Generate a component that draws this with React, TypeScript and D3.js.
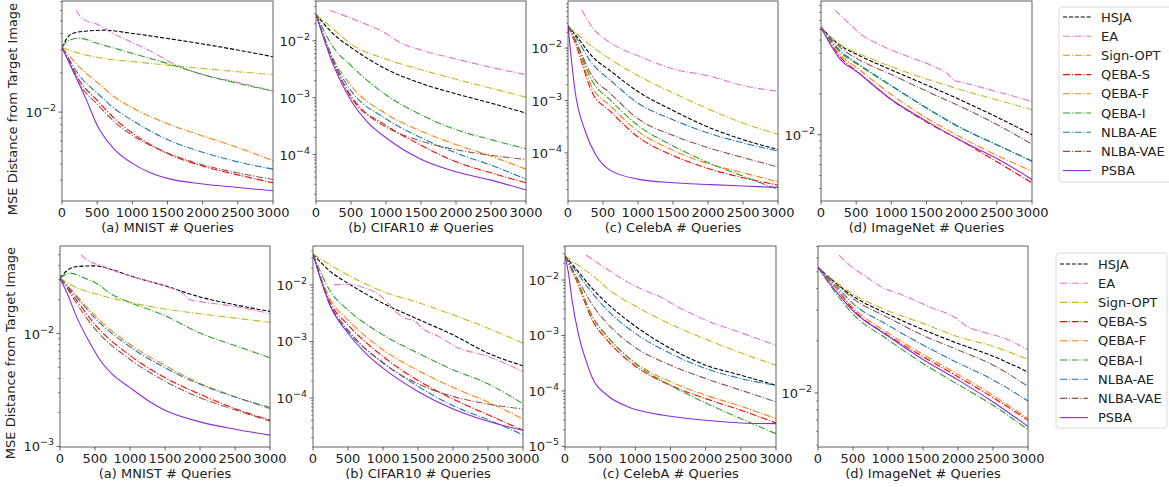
import React from 'react';
import * as d3 from 'd3';

type Pt = [number, number];
type PanelData = Record<string, Pt[]>;

// legend order, colours and line styles
const seriesNames = ['HSJA', 'EA', 'Sign-OPT', 'QEBA-S', 'QEBA-F', 'QEBA-I', 'NLBA-AE', 'NLBA-VAE', 'PSBA'];
const seriesColors = ['#000000', '#e377c2', '#bcbd22', '#ff0000', '#ff7f0e', '#2ca02c', '#1f77b4', '#8c564b', '#8a2be2'];
const seriesDash = ['4.1,1.8', '7,1.8,1.1,1.8', '7,1.8,1.1,1.8', '7,1.8,1.1,1.8', '7,1.8,1.1,1.8', '7,1.8,1.1,1.8', '7,1.8,1.1,1.8', '7,1.8,1.1,1.8', ''];

const xTicks = [0, 500, 1000, 1500, 2000, 2500, 3000];
const colTitles = ['(a) MNIST # Queries', '(b) CIFAR10 # Queries', '(c) CelebA # Queries', '(d) ImageNet # Queries'];
const yLabel = 'MSE Distance from Target Image';

// y limits (log10)
const topYLimits: Pt[] = [[-2.682, -1.148], [-4.816, -1.300], [-4.918, -1.101], [-2.490, -1.012]];
const bottomYLimits: Pt[] = [[-3.005, -1.224], [-4.865, -1.312], [-5.012, -1.386], [-2.312, -1.152]];

// ---- top row ----
const mnistTop: PanelData = {
  'HSJA': [[0, .0313], [100, .0385], [200, .0408], [400, .0420], [600, .0425], [1000, .0401], [1500, .0367], [2000, .0333], [2500, .0299], [3000, .0266]],
  'EA': [[200, .0604], [300, .0515], [500, .0472], [700, .0408], [1000, .0342], [1250, .0296], [1500, .0248], [2000, .0194], [2500, .0169], [3000, .0145]],
  'Sign-OPT': [[0, .0313], [200, .0287], [500, .0263], [1000, .0244], [1500, .0229], [2000, .0216], [2500, .0204], [3000, .0194]],
  'QEBA-S': [[0, .0313], [100, .0248], [250, .0174], [500, .0123], [750, .00889], [1000, .00691], [1500, .00481], [2000, .00385], [2500, .00330], [3000, .00287]],
  'QEBA-F': [[0, .0313], [100, .0271], [250, .0221], [500, .0169], [750, .0130], [1000, .0108], [1500, .00815], [2000, .00656], [2500, .00535], [3000, .00423]],
  'QEBA-I': [[0, .0313], [100, .0356], [250, .0369], [500, .0337], [1000, .0282], [1500, .0236], [2000, .0194], [2500, .0166], [3000, .0145]],
  'NLBA-AE': [[0, .0313], [100, .0255], [250, .0190], [500, .0140], [750, .0106], [1000, .00863], [1500, .00615], [2000, .00492], [2500, .00415], [3000, .00365]],
  'NLBA-VAE': [[0, .0313], [100, .0241], [250, .0164], [500, .0115], [750, .00839], [1000, .00664], [1500, .00486], [2000, .00394], [2500, .00342], [3000, .00304]],
  'PSBA': [[0, .0313], [100, .0241], [200, .0185], [350, .0123], [500, .00791], [750, .00515], [1000, .00404], [1250, .00344], [1500, .00310], [2000, .00281], [2500, .00264], [3000, .00249]],
};

const cifarTop: PanelData = {
  'HSJA': [[0, .0292], [250, .0131], [500, .00765], [1000, .00319], [1500, .00179], [2000, .00117], [2500, .000802], [3000, .000536]],
  'EA': [[200, .0344], [500, .0249], [1000, .0134], [1200, .00935], [1500, .00687], [2000, .00478], [2500, .00342], [3000, .00254]],
  'Sign-OPT': [[0, .0292], [250, .0160], [500, .00874], [1000, .00478], [1500, .00311], [2000, .00211], [2500, .00147], [3000, .00102]],
  'QEBA-S': [[0, .0292], [250, .00418], [500, .00102], [1000, .000326], [1500, .000146], [2000, .0000745], [2500, .0000478], [3000, .0000319]],
  'QEBA-F': [[0, .0292], [250, .00478], [500, .00163], [1000, .000521], [1500, .000259], [2000, .000150], [2500, .0000935], [3000, .0000554]],
  'QEBA-I': [[0, .0292], [250, .00765], [500, .00366], [1000, .00112], [1500, .000501], [2000, .000274], [2500, .000183], [3000, .000127]],
  'NLBA-AE': [[0, .0292], [250, .00447], [500, .00133], [1000, .000426], [1500, .000198], [2000, .000107], [2500, .0000650], [3000, .0000370]],
  'NLBA-VAE': [[0, .0292], [250, .00418], [500, .00109], [750, .000488], [1000, .000305], [1500, .000173], [2000, .000122], [2500, .0000972], [3000, .0000818]],
  'PSBA': [[0, .0292], [250, .00366], [500, .000891], [750, .000358], [1000, .000198], [1500, .0000828], [2000, .0000498], [2500, .0000356], [3000, .0000238]],
};

const celebaTop: PanelData = {
  'HSJA': [[0, .0265], [100, .0185], [350, .00684], [600, .00372], [1000, .00148], [1500, .000646], [2000, .000312], [2500, .000179], [3000, .000116]],
  'EA': [[200, .0527], [350, .0247], [600, .0128], [800, .00916], [1000, .00715], [1500, .00399], [2000, .00298], [2500, .00193], [3000, .00150]],
  'Sign-OPT': [[0, .0265], [350, .0106], [600, .00618], [1000, .00298], [1500, .00140], [2000, .000695], [2500, .000371], [3000, .000226]],
  'QEBA-S': [[0, .0265], [100, .0128], [350, .00138], [600, .000627], [1000, .000201], [1500, .0000889], [2000, .0000504], [2500, .0000335], [3000, .0000243]],
  'QEBA-F': [[0, .0265], [100, .0138], [350, .00174], [600, .000804], [1000, .000258], [1500, .000112], [2000, .0000627], [2500, .0000417], [3000, .0000281]],
  'QEBA-I': [[0, .0265], [100, .0142], [350, .00230], [600, .00103], [1000, .000335], [1500, .000136], [2000, .0000655], [2500, .0000360], [3000, .0000201]],
  'NLBA-AE': [[0, .0265], [100, .0171], [350, .00497], [600, .00247], [1000, .000889], [1500, .000429], [2000, .000240], [2500, .000155], [3000, .000109]],
  'NLBA-VAE': [[0, .0265], [100, .0148], [350, .00286], [600, .00138], [1000, .000449], [1500, .000216], [2000, .000126], [2500, .0000815], [3000, .0000542]],
  'PSBA': [[0, .0265], [50, .00575], [100, .00155], [250, .000251], [400, .0000903], [600, .0000469], [1000, .0000316], [1500, .0000269], [2000, .0000250], [2500, .0000233], [3000, .0000220]],
};

const imagenetTop: PanelData = {
  'HSJA': [[0, .0620], [300, .0447], [500, .0394], [1000, .0301], [1500, .0233], [2000, .0179], [2500, .0135], [3000, .0100]],
  'EA': [[200, .0830], [400, .0662], [600, .0537], [800, .0472], [1000, .0422], [1300, .0368], [1600, .0320], [1800, .0281], [1900, .0251], [2000, .0244], [2500, .0208], [3000, .0176]],
  'Sign-OPT': [[0, .0620], [300, .0454], [500, .0406], [1000, .0318], [1500, .0258], [2000, .0214], [2500, .0181], [3000, .0153]],
  'QEBA-S': [[0, .0620], [300, .0362], [500, .0297], [1000, .0181], [1500, .0124], [2000, .00898], [2500, .00630], [3000, .00441]],
  'QEBA-F': [[0, .0620], [300, .0377], [500, .0315], [1000, .0198], [1500, .0133], [2000, .00951], [2500, .00705], [3000, .00537]],
  'QEBA-I': [[0, .0620], [300, .0395], [500, .0336], [1000, .0229], [1500, .0157], [2000, .0111], [2500, .00840], [3000, .00640]],
  'NLBA-AE': [[0, .0620], [300, .0406], [500, .0342], [1000, .0231], [1500, .0158], [2000, .0112], [2500, .00844], [3000, .00637]],
  'NLBA-VAE': [[0, .0620], [300, .0429], [500, .0368], [1000, .0278], [1500, .0210], [2000, .0160], [2500, .0119], [3000, .00849]],
  'PSBA': [[0, .0620], [300, .0348], [500, .0294], [1000, .0182], [1500, .0126], [2000, .00898], [2500, .00667], [3000, .00467]],
};

// ---- bottom row ----
const mnistBottom: PanelData = {
  'HSJA': [[0, .0310], [100, .0362], [250, .0393], [500, .0398], [750, .0367], [1000, .0325], [1500, .0265], [2000, .0211], [2500, .0180], [3000, .0157]],
  'EA': [[300, .0498], [400, .0444], [600, .0398], [800, .0355], [1000, .0325], [1500, .0262], [1750, .0229], [1850, .0200], [2000, .0192], [2500, .0174], [3000, .0150]],
  'Sign-OPT': [[0, .0310], [250, .0253], [500, .0225], [1000, .0189], [1500, .0165], [2000, .0150], [2500, .0137], [3000, .0126]],
  'QEBA-S': [[0, .0310], [100, .0258], [250, .0193], [500, .0120], [1000, .00640], [1500, .00406], [2000, .00290], [2500, .00216], [3000, .00171]],
  'QEBA-F': [[0, .0310], [100, .0270], [250, .0213], [500, .0144], [1000, .00800], [1500, .00522], [2000, .00362], [2500, .00276], [3000, .00216]],
  'QEBA-I': [[0, .0310], [150, .0343], [350, .0310], [500, .0284], [750, .0221], [1000, .0189], [1500, .0144], [2000, .0101], [2500, .00783], [3000, .00610]],
  'NLBA-AE': [[0, .0310], [100, .0265], [250, .0206], [500, .0137], [1000, .00763], [1500, .00498], [2000, .00355], [2500, .00274], [3000, .00221]],
  'NLBA-VAE': [[0, .0310], [100, .0253], [250, .0180], [500, .0110], [1000, .00590], [1500, .00379], [2000, .00270], [2500, .00211], [3000, .00168]],
  'PSBA': [[0, .0310], [100, .0229], [250, .0135], [400, .00885], [600, .00551], [750, .00435], [1000, .00332], [1300, .00245], [1500, .00209], [2000, .00165], [2500, .00142], [3000, .00126]],
};

const cifarBottom: PanelData = {
  'HSJA': [[0, .0352], [250, .0172], [500, .0107], [1000, .00474], [1500, .00248], [2000, .00131], [2500, .000622], [3000, .000372]],
  'EA': [[300, .0100], [500, .0103], [750, .00874], [950, .00667], [1050, .00508], [1180, .00338], [1320, .00258], [1460, .00226], [1560, .00172], [1800, .00122], [2030, .000817], [2500, .000543], [3000, .000296]],
  'Sign-OPT': [[0, .0352], [250, .0225], [500, .0150], [1000, .00763], [1500, .00488], [2000, .00296], [2500, .00172], [3000, .000935]],
  'QEBA-S': [[0, .0352], [250, .00474], [500, .00197], [1000, .000543], [1500, .000205], [2000, .0000960], [2500, .0000508], [3000, .0000269]],
  'QEBA-F': [[0, .0352], [250, .00543], [500, .00241], [1000, .000713], [1500, .000308], [2000, .000154], [2500, .0000849], [3000, .0000426]],
  'QEBA-I': [[0, .0352], [250, .00763], [500, .00362], [1000, .00131], [1500, .000622], [2000, .000316], [2500, .000179], [3000, .0000794]],
  'NLBA-AE': [[0, .0352], [250, .00426], [500, .00150], [1000, .000426], [1500, .000161], [2000, .0000733], [2500, .0000415], [3000, .0000225]],
  'NLBA-VAE': [[0, .0352], [250, .00444], [500, .00161], [1000, .000415], [1500, .000179], [2000, .000107], [2500, .0000783], [3000, .0000640]],
  'PSBA': [[0, .0352], [250, .00415], [500, .00140], [750, .000622], [1000, .000338], [1500, .000131], [2000, .0000640], [2500, .0000388], [3000, .0000269]],
};

const celebaBottom: PanelData = {
  'HSJA': [[0, .0272], [150, .0163], [400, .00678], [600, .00378], [1000, .00147], [1500, .000582], [2000, .000291], [2500, .000192], [3000, .000126]],
  'EA': [[300, .0283], [600, .0156], [900, .00908], [1100, .00678], [1350, .00500], [1600, .00330], [2000, .00189], [2500, .00112], [3000, .000668]],
  'Sign-OPT': [[0, .0272], [150, .0200], [400, .0118], [600, .00707], [1000, .00339], [1500, .00160], [2000, .000859], [2500, .000486], [3000, .000291]],
  'QEBA-S': [[0, .0272], [150, .0107], [400, .00177], [600, .000824], [1000, .000279], [1500, .000126], [2000, .0000726], [2500, .0000448], [3000, .0000264]],
  'QEBA-F': [[0, .0272], [150, .0112], [400, .00203], [600, .000946], [1000, .000321], [1500, .000146], [2000, .0000836], [2500, .0000529], [3000, .0000316]],
  'QEBA-I': [[0, .0272], [150, .0115], [400, .00211], [600, .000973], [1000, .000312], [1500, .000126], [2000, .0000607], [2500, .0000316], [3000, .0000169]],
  'NLBA-AE': [[0, .0272], [150, .0148], [400, .00558], [600, .00287], [1000, .00109], [1500, .000473], [2000, .000253], [2500, .000167], [3000, .000126]],
  'NLBA-VAE': [[0, .0272], [150, .0123], [400, .00339], [600, .00165], [1000, .000607], [1500, .000291], [2000, .000167], [2500, .000103], [3000, .0000633]],
  'PSBA': [[0, .0272], [50, .0132], [100, .00435], [200, .000946], [300, .000348], [400, .000160], [600, .0000836], [900, .0000514], [1100, .0000429], [1500, .0000349], [2000, .0000295], [2500, .0000264], [3000, .0000257]],
};

const imagenetBottom: PanelData = {
  'HSJA': [[0, .0530], [250, .0432], [500, .0362], [1000, .0285], [1500, .0232], [2000, .0193], [2500, .0163], [3000, .0132]],
  'EA': [[300, .0625], [450, .0547], [700, .0464], [900, .0410], [1150, .0375], [1400, .0340], [1650, .0307], [1900, .0281], [2000, .0265], [2100, .0246], [2350, .0225], [2600, .0211], [3000, .0178]],
  'Sign-OPT': [[0, .0530], [250, .0438], [500, .0372], [1000, .0298], [1500, .0252], [2000, .0211], [2500, .0186], [3000, .0156]],
  'QEBA-S': [[0, .0530], [250, .0406], [500, .0303], [1000, .0215], [1500, .0162], [2000, .0124], [2500, .00940], [3000, .00695]],
  'QEBA-F': [[0, .0530], [250, .0410], [500, .0311], [1000, .0222], [1500, .0167], [2000, .0128], [2500, .00970], [3000, .00711]],
  'QEBA-I': [[0, .0530], [250, .0379], [500, .0285], [1000, .0203], [1500, .0148], [2000, .0112], [2500, .00849], [3000, .00614]],
  'NLBA-AE': [[0, .0530], [250, .0419], [500, .0328], [1000, .0246], [1500, .0189], [2000, .0149], [2500, .0119], [3000, .00899]],
  'NLBA-VAE': [[0, .0530], [250, .0429], [500, .0351], [1000, .0272], [1500, .0215], [2000, .0177], [2500, .0145], [3000, .0109]],
  'PSBA': [[0, .0530], [250, .0389], [500, .0298], [1000, .0213], [1500, .0156], [2000, .0119], [2500, .00887], [3000, .00641]],
};

const topData = [mnistTop, cifarTop, celebaTop, imagenetTop];
const bottomData = [mnistBottom, cifarBottom, celebaBottom, imagenetBottom];

// layout (pixels)
const W = 1169;
const H = 487;
const FONT = 'DejaVu Sans, sans-serif';
const topX = [[62, 273], [316, 526], [568, 778], [821, 1032]];
const bottomX = [[60, 270], [313, 523], [565, 776], [818, 1028]];
const topY = [1, 201];
const bottomY = [246, 447];

type PanelProps = { id: string; data: PanelData; xr: number[]; yr: number[]; lim: Pt; title: string; showYLabel: boolean; yLabelCenter: number };

const Panel = ({ id, data, xr, yr, lim, title, showYLabel, yLabelCenter }: PanelProps) => {
  const x = d3.scaleLinear().domain([0, 3000]).range(xr);
  const y = d3.scaleLog().domain([Math.pow(10, lim[0]), Math.pow(10, lim[1])]).range([yr[1], yr[0]]);
  const line = d3.line<Pt>().x(d => x(d[0])).y(d => y(d[1])).curve(d3.curveMonotoneX);

  const majors: number[] = [];
  const minors: number[] = [];
  for (let k = Math.floor(lim[0]); k <= Math.ceil(lim[1]); k++) {
    for (let m = 1; m <= 9; m++) {
      const v = m * Math.pow(10, k);
      const lv = Math.log10(v);
      if (lv < lim[0] || lv > lim[1]) continue;
      if (m === 1) majors.push(k); else minors.push(v);
    }
  }

  return (
    <g>
      <defs>
        <clipPath id={id}>
          <rect x={xr[0]} y={yr[0]} width={xr[1] - xr[0]} height={yr[1] - yr[0]} />
        </clipPath>
      </defs>
      <g clipPath={`url(#${id})`}>
        {seriesNames.map((name, i) => (
          <path key={name} d={line(data[name]) || ''} fill="none" stroke={seriesColors[i]}
            strokeWidth={1.1} strokeDasharray={seriesDash[i] || undefined} />
        ))}
      </g>
      <rect x={xr[0]} y={yr[0]} width={xr[1] - xr[0]} height={yr[1] - yr[0]} fill="none" stroke="#3a3a3a" strokeWidth={0.8} />
      {xTicks.map(t => (
        <g key={t}>
          <line x1={x(t)} x2={x(t)} y1={yr[1]} y2={yr[1] + 3.5} stroke="#3a3a3a" strokeWidth={0.8} />
          <text x={x(t)} y={yr[1] + 16} textAnchor="middle" fontSize={13} fontFamily={FONT} fill="#222">{t}</text>
        </g>
      ))}
      {minors.map(v => (
        <line key={v} x1={xr[0] - 2} x2={xr[0]} y1={y(v)} y2={y(v)} stroke="#3a3a3a" strokeWidth={0.6} />
      ))}
      {majors.map(k => (
        <g key={k}>
          <line x1={xr[0] - 3.5} x2={xr[0]} y1={y(Math.pow(10, k))} y2={y(Math.pow(10, k))} stroke="#3a3a3a" strokeWidth={0.8} />
          <text x={xr[0] - 6} y={y(Math.pow(10, k)) + 5} textAnchor="end" fontSize={13} fontFamily={FONT} fill="#222">
            10<tspan dy={-6} fontSize={9.5}>{`\u2212${-k}`}</tspan>
          </text>
        </g>
      ))}
      <text x={(xr[0] + xr[1]) / 2} y={yr[1] + 31} textAnchor="middle" fontSize={13} fontFamily={FONT} fill="#222">{title}</text>
      {showYLabel && (
        <text transform={`translate(${xr[0] - 45},${yLabelCenter}) rotate(-90)`} textAnchor="middle" fontSize={13} fontFamily={FONT} fill="#222">{yLabel}</text>
      )}
    </g>
  );
};

const Legend = ({ bx, by, bw, lineX, textX, rowY }: { bx: number; by: number; bw: number; lineX: number; textX: number; rowY: number }) => (
  <g>
    <rect x={bx} y={by} width={bw} height={175} rx={3} fill="#fff" fillOpacity={0.8} stroke="#d0d0d0" strokeWidth={0.8} />
    {seriesNames.map((name, i) => {
      const yy = rowY + i * 19.2;
      return (
        <g key={name}>
          <line x1={lineX} x2={lineX + 28} y1={yy} y2={yy} stroke={seriesColors[i]} strokeWidth={1.1} strokeDasharray={seriesDash[i] || undefined} />
          <text x={textX} y={yy + 4.5} fontSize={13} fontFamily={FONT} fill="#222">{name}</text>
        </g>
      );
    })}
  </g>
);

export default function App() {
  return (
    <svg width={W} height={H} style={{ position: 'absolute', left: 0, top: 0, display: 'block', background: '#fff' }}>
      <rect x={0} y={0} width={W} height={H} fill="#fff" />
      {topData.map((d, i) => (
        <Panel key={`t${i}`} id={`clipT${i}`} data={d} xr={topX[i]} yr={topY} lim={topYLimits[i]} title={colTitles[i]} showYLabel={i === 0} yLabelCenter={109} />
      ))}
      {bottomData.map((d, i) => (
        <Panel key={`b${i}`} id={`clipB${i}`} data={d} xr={bottomX[i]} yr={bottomY} lim={bottomYLimits[i]} title={colTitles[i]} showYLabel={i === 0} yLabelCenter={353} />
      ))}
      <Legend bx={1059} by={7} bw={120} lineX={1063} textX={1101} rowY={17} />
      <Legend bx={1056} by={253} bw={111} lineX={1060} textX={1098} rowY={264} />
    </svg>
  );
}
